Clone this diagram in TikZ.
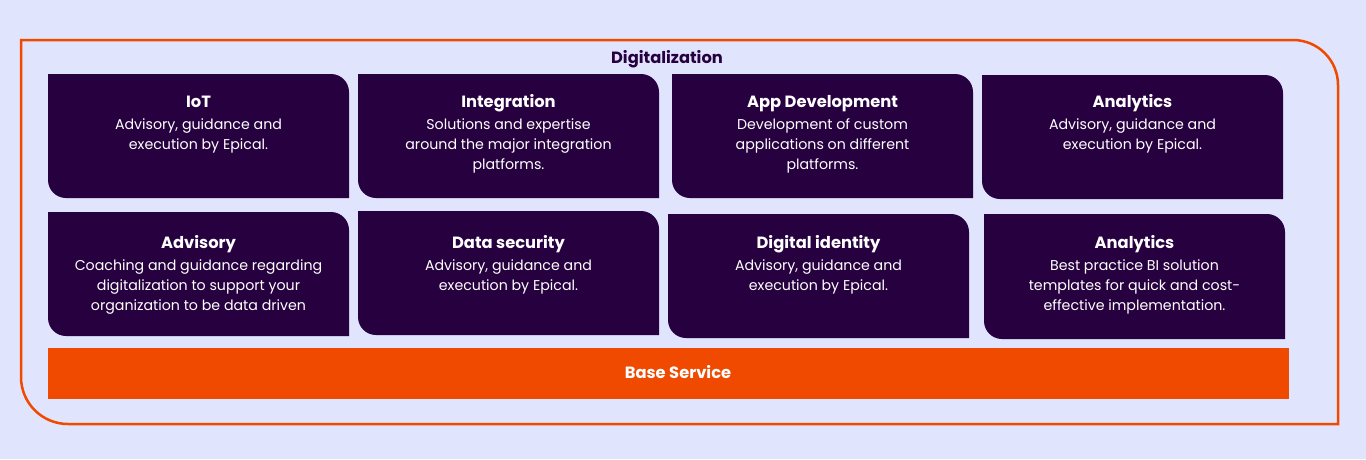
\documentclass[tikz,border=0pt]{standalone}
\usepackage{fontspec}
\setmainfont{Poppins}
\definecolor{bg}{HTML}{E0E5FD}
\definecolor{plum}{HTML}{270040}
\definecolor{brand}{HTML}{F04A00}
\tikzset{
  tilefill/.style={fill=plum},
  ttl/.style={anchor=base, text=white, font=\fontsize{16.3}{20}\selectfont\bfseries, inner sep=0pt},
  body/.style={anchor=north, text=white, align=center, font=\fontsize{14.2}{20}\selectfont, inner sep=0pt},
}
% \tile{name}{left}{top}{right}{bottom}{title}{body}{title baseline}
\newcommand\tile[8]{%
  \fill[tilefill] (#2,#3) -- ({#4-18},#3) arc(270:360:18) -- (#4,#5) -- ({#2+18},#5) arc(90:180:18) -- cycle;
  \node[ttl] (#1) at ({(#2+#4)/2},#8) {#6};
  \node[body] (#1b) at ({(#2+#4)/2},{#8+11}) {#7};
}
\begin{document}
\begin{tikzpicture}[x=1pt,y=-1pt]
\fill[bg] (0,0) rectangle (1366,459);
\useasboundingbox (0,0) rectangle (1366,459);
\draw[brand, line width=2.5pt] (21,40) -- (1293,40) arc(270:360:45) -- (1338,424) -- (68,424) arc(90:180:47) -- cycle;
\node[anchor=base, text=plum, font=\fontsize{16.3}{20}\selectfont\bfseries, inner sep=0pt] (title) at (667,63) {Digitalization};
\tile{iot}{48}{74}{349}{198}{IoT}{Advisory, guidance and\\execution by Epical.}{107.5}
\tile{integ}{358}{74}{659}{198}{Integration}{Solutions and expertise\\around the major integration\\platforms.}{107.5}
\tile{appdev}{672}{74}{973}{198}{App Development}{Development of custom\\applications on different\\platforms.}{107.5}
\tile{analytics}{982}{75}{1283}{199}{Analytics}{Advisory, guidance and\\execution by Epical.}{107.5}
\tile{advisory}{48}{212}{349}{336}{Advisory}{Coaching and guidance regarding\\digitalization to support your\\organization to be data driven}{248.5}
\tile{datasec}{358}{211}{659}{335}{Data security}{Advisory, guidance and\\execution by Epical.}{248.5}
\tile{digid}{668}{214}{969}{338}{Digital identity}{Advisory, guidance and\\execution by Epical.}{248.5}
\tile{bi}{984}{214}{1285}{339}{Analytics}{Best practice BI solution\\templates for quick and cost-\\effective implementation.}{248.5}
\fill[brand] (48,348) rectangle (1289,399);
\node[anchor=base, text=white, font=\fontsize{16.3}{20}\selectfont\bfseries, inner sep=0pt] (base) at (678,378) {Base Service};
\end{tikzpicture}
\end{document}
